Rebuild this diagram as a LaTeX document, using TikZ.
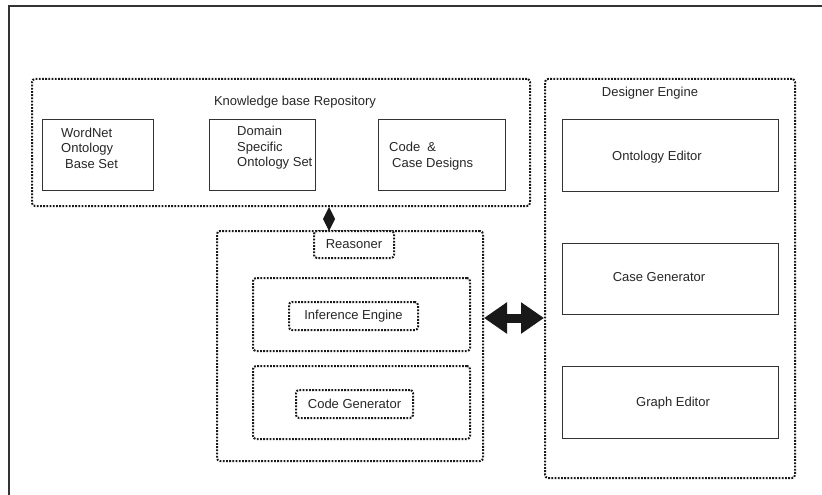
\documentclass[tikz,border=0pt]{standalone}
\usepackage{fontspec}
\setmainfont{Liberation Sans}
\usetikzlibrary{arrows.meta}

\begin{document}
\begin{tikzpicture}[x=1pt, y=-1pt]
			\tikzstyle{every node}=[align=center, inner sep=1pt, text=black!85, font=\fontsize{13}{15.5}\selectfont]
			\tikzstyle{dotbox}=[draw=black!90, line width=2pt, dash pattern=on 1.8pt off 1.4pt, rounded corners=3pt]
			\tikzstyle{plainbox}=[draw=black!80, line width=0.9pt]
			\useasboundingbox (0,0) rectangle (822,495);
			% outer frame
			\draw[black!80, line width=2.2pt] (9,495) -- (9,6) -- (822,6);

				% knowledge base
				\node[dotbox, minimum width=498pt, minimum height=127pt] (kb) at (281,142.5) {};
				\node (kbtitle) at (295,102) {Knowledge base Repository};
				\node[plainbox, minimum width=111pt, minimum height=71pt] (wordnet) at (97.5,154.5) {};
				\node[anchor=west, align=left] (wordnettxt) at (60,148) {WordNet\\Ontology\\\hspace{4pt}Base Set};
				\node[plainbox, minimum width=106pt, minimum height=71pt] (domain) at (262,154.5) {};
				\node[anchor=west, align=left] (domaintxt) at (236,148) {Domain\\Specific\\Ontology Set};
				\node[plainbox, minimum width=127pt, minimum height=71pt] (casedes) at (441.5,154.5) {};
				\node[anchor=west, align=left] (casedestxt) at (388,156) {Code \ \&\\\hspace{3pt}Case Designs};

				% designer engine
				\node[dotbox, minimum width=250pt, minimum height=399pt] (designer) at (670,278.5) {};
				\node (designertitle) at (650,93) {Designer Engine};
				\node[plainbox, minimum width=216pt, minimum height=72pt] (ontoed) at (670,155) {};
				\node (ontoedtxt) at (657,157) {Ontology Editor};
				\node[plainbox, minimum width=216pt, minimum height=71pt] (casegen) at (670,278.5) {};
				\node (casegentxt) at (659,277) {Case Generator};
				\node[plainbox, minimum width=216pt, minimum height=72pt] (graphed) at (670,402) {};
				\node (graphedtxt) at (673,403) {Graph Editor};

				% reasoner
				\node[dotbox, minimum width=266pt, minimum height=230pt] (reasoner) at (350,346) {};
				\node[dotbox, fill=white, minimum width=80pt, minimum height=27pt] (rlabel) at (354,244.5) {Reasoner};
				\node[dotbox, minimum width=217pt, minimum height=73pt] (infouter) at (361.5,314.5) {};
				\node[dotbox, minimum width=129pt, minimum height=28pt] (infeng) at (353.5,316) {Inference Engine};
				\node[dotbox, minimum width=217pt, minimum height=73pt] (cgouter) at (361.5,402.5) {};
				\node[dotbox, minimum width=117pt, minimum height=28pt] (codegen) at (354.5,404) {Code Generator};

				\coordinate (dx) at (329,0);
				\coordinate (ay) at (0,318);
				\draw[black!90, line width=0.5pt, -{Diamond[length=24pt, width=12pt]}] (rlabel.north -| dx) -- (kb.south -| dx);
				\draw[black!90, line width=9pt, {Triangle[length=23pt, width=30pt]}-{Triangle[length=23pt, width=30pt]}] (reasoner.east |- ay) -- (designer.west |- ay);
			\end{tikzpicture}
\end{document}
